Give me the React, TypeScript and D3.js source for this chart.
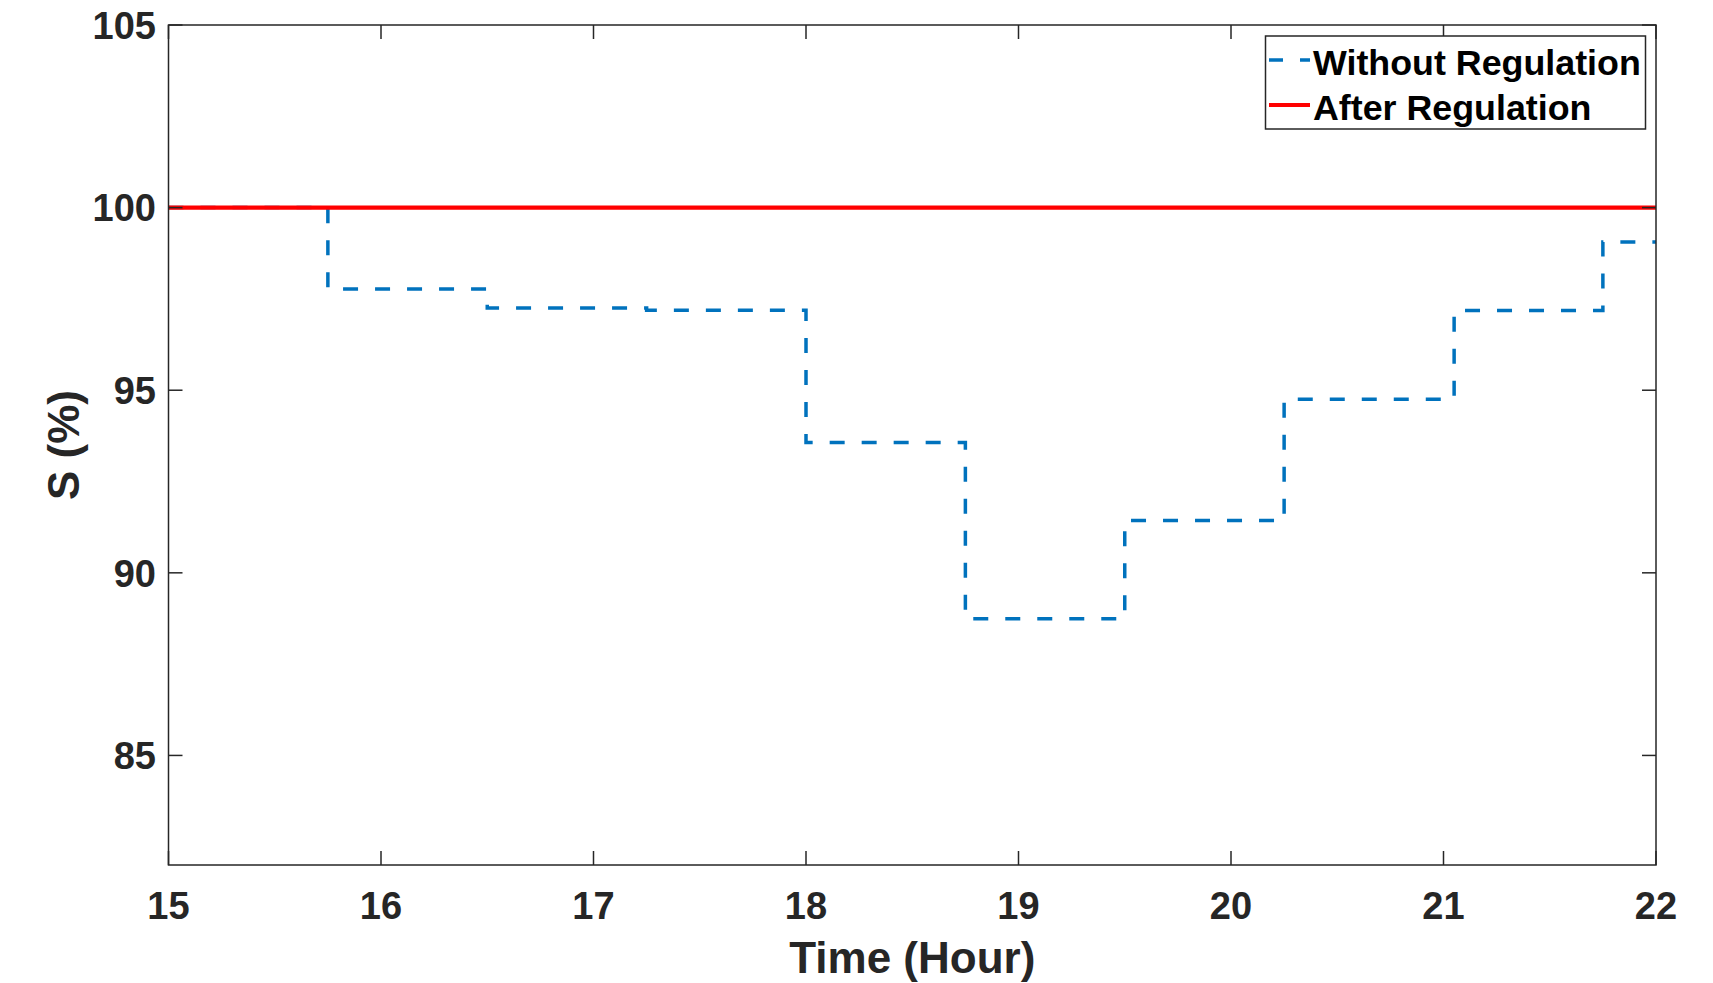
import React from "react";
import * as d3 from "d3";

const stepTimes = [15, 15.75, 16.5, 17.25, 18, 18.75, 19.5, 20.25, 21.05, 21.75, 22];
const withoutValues = [100, 97.77, 97.25, 97.19, 93.57, 88.74, 91.43, 94.75, 97.18, 99.06, 99.06];
const afterTimes = [15, 22];
const afterValues = [100, 100];
const xTicks = [15, 16, 17, 18, 19, 20, 21, 22];
const yTicks = [85, 90, 95, 100, 105];
const legendLabels = ["Without Regulation", "After Regulation"];

const W = 1713, H = 983;
const L = 168.5, R = 1656, T = 25, B = 865;
const AX = "#262626";
const FONT = "'Liberation Sans', Arial, Helvetica, sans-serif";

export default function App() {
  const x = d3.scaleLinear().domain([15, 22]).range([L, R]);
  const y = d3.scaleLinear().domain([82, 105]).range([B, T]);
  const stepLine = d3
    .line<number>()
    .x((_, i) => x(stepTimes[i]))
    .y((d) => y(d))
    .curve(d3.curveStepAfter);
  const plainLine = d3
    .line<number>()
    .x((_, i) => x(afterTimes[i]))
    .y((d) => y(d));
  const tl = 14;
  return (
    <svg width={W} height={H} style={{ position: "absolute", left: 0, top: 0, background: "#fff" }}>
      <rect x={0} y={0} width={W} height={H} fill="#fff" />
      <defs>
        <clipPath id="clip">
          <rect x={L} y={T} width={R - L} height={B - T} />
        </clipPath>
      </defs>
      <g clipPath="url(#clip)">
        <path d={stepLine(withoutValues) || ""} fill="none" stroke="#0072BD" strokeWidth={3.5} strokeDasharray="15 17" />
        <path d={plainLine(afterValues) || ""} fill="none" stroke="#FF0000" strokeWidth={4.2} />
      </g>
      <rect x={L} y={T} width={R - L} height={B - T} fill="none" stroke={AX} strokeWidth={1.5} />
      {xTicks.map((t) => (
        <g key={"x" + t}>
          <line x1={x(t)} x2={x(t)} y1={B} y2={B - tl} stroke={AX} strokeWidth={1.5} />
          <line x1={x(t)} x2={x(t)} y1={T} y2={T + tl} stroke={AX} strokeWidth={1.5} />
          <text x={x(t)} y={919} textAnchor="middle" fontFamily={FONT} fontWeight="bold" fontSize={38} fill={AX}>
            {t}
          </text>
        </g>
      ))}
      {yTicks.map((t) => (
        <g key={"y" + t}>
          <line x1={L} x2={L + tl} y1={y(t)} y2={y(t)} stroke={AX} strokeWidth={1.5} />
          <line x1={R} x2={R - tl} y1={y(t)} y2={y(t)} stroke={AX} strokeWidth={1.5} />
          <text x={156} y={y(t)} dy="0.36em" textAnchor="end" fontFamily={FONT} fontWeight="bold" fontSize={38} fill={AX}>
            {t}
          </text>
        </g>
      ))}
      <text x={(L + R) / 2} y={973} textAnchor="middle" fontFamily={FONT} fontWeight="bold" fontSize={44} fill={AX}>
        Time (Hour)
      </text>
      <text
        transform={`translate(79,${(T + B) / 2}) rotate(-90)`}
        textAnchor="middle"
        fontFamily={FONT}
        fontWeight="bold"
        fontSize={44}
        fill={AX}
      >
        S (%)
      </text>
      <rect x={1265.5} y={36} width={380} height={93} fill="#fff" stroke={AX} strokeWidth={1.5} />
      <line x1={1269} x2={1310} y1={60} y2={60} stroke="#0072BD" strokeWidth={3.5} strokeDasharray="14 17" />
      <line x1={1269} x2={1310} y1={105} y2={105} stroke="#FF0000" strokeWidth={4} />
      <text x={1313} y={75} fontFamily={FONT} fontWeight="bold" fontSize={35.8} fill="#000">
        {legendLabels[0]}
      </text>
      <text x={1313} y={120} fontFamily={FONT} fontWeight="bold" fontSize={35.8} fill="#000">
        {legendLabels[1]}
      </text>
    </svg>
  );
}
